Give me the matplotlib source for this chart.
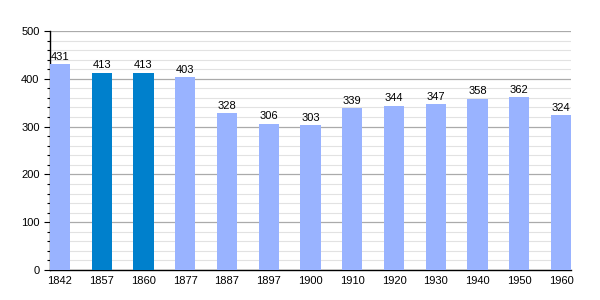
import matplotlib.pyplot as plt
from matplotlib.ticker import MultipleLocator

plt.rcParams['font.family'] = ['Liberation Sans', 'DejaVu Sans']

# Population by census year
annees = ['1842', '1857', '1860', '1877', '1887', '1897', '1900',
          '1910', '1920', '1930', '1940', '1950', '1960']
population = [431, 413, 413, 403, 328, 306, 303, 339, 344, 347, 358, 362, 324]
couleurs = ['#99b3ff', '#0080cc', '#0080cc'] + ['#99b3ff'] * 10

fig = plt.figure(figsize=(6, 3), dpi=100)
ax = fig.add_axes([50 / 600, 30 / 300, 521 / 600, 239 / 300])

x = range(len(annees))
ax.bar(x, population, width=0.48, color=couleurs, zorder=3)
for i, v in enumerate(population):
    ax.text(i, v + 5, str(v), ha='center', va='bottom', fontsize=8, zorder=4)

ax.set_xlim(-0.24, len(annees) - 0.76)
ax.set_ylim(0, 500)
ax.set_xticks(list(x))
ax.set_xticklabels(annees, fontsize=8)
ax.yaxis.set_major_locator(MultipleLocator(100))
ax.yaxis.set_minor_locator(MultipleLocator(20))
ax.tick_params(axis='y', labelsize=8, length=4, width=0.8)
ax.tick_params(axis='y', which='minor', length=2.5, width=0.8)
ax.tick_params(axis='x', length=0, pad=4)
ax.grid(axis='y', which='major', color='#aaaaaa', linewidth=0.9, zorder=0)
ax.grid(axis='y', which='minor', color='#e2e2e2', linewidth=0.8, zorder=0)

for s in ['top', 'right']:
    ax.spines[s].set_visible(False)
ax.spines['left'].set_linewidth(1.0)
ax.spines['bottom'].set_linewidth(1.0)

plt.savefig('out.png', dpi=100)
